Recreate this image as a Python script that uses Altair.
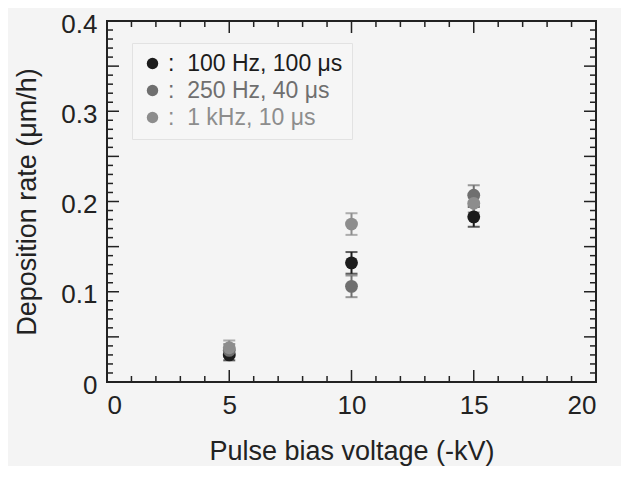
import altair as alt
import pandas as pd

series = ["100 Hz, 100 μs", "250 Hz, 40 μs", "1 kHz, 10 μs"]
colors = ["#1c1c1c", "#6f6f6f", "#8d8d8d"]
voltage = [5, 10, 15]
rate_100hz = [0.030, 0.132, 0.183]
err_100hz = [0.006, 0.012, 0.011]
rate_250hz = [0.035, 0.106, 0.207]
err_250hz = [0.007, 0.012, 0.011]
rate_1khz = [0.038, 0.175, 0.198]
err_1khz = [0.008, 0.012, 0.010]

x_major = [0, 5, 10, 15, 20]
x_minor = [v for v in range(0, 21) if v % 5 != 0]
y_major = [round(i * 0.05, 3) for i in range(0, 9)]
y_minor = [round(i * 0.01, 3) for i in range(0, 41) if i % 5 != 0]
x_labels = [0, 5, 10, 15, 20]
y_labels = [0, 0.1, 0.2, 0.3, 0.4]

rows = []
for name, ys, es in [(series[0], rate_100hz, err_100hz),
                     (series[1], rate_250hz, err_250hz),
                     (series[2], rate_1khz, err_1khz)]:
    for x, y, e in zip(voltage, ys, es):
        rows.append({"series": name, "v": x, "r": y, "lo": y - e, "hi": y + e,
                     "ord": series.index(name)})
df = pd.DataFrame(rows)

W, H = 489, 361
xs = alt.Scale(domain=[0, 20], nice=False)
ys_ = alt.Scale(domain=[0, 0.4], nice=False)
cscale = alt.Scale(domain=series, range=colors)
FONT = "Liberation Sans"

label_color_expr = ("datum.label == '" + series[0] + "' ? '" + colors[0] + "' : (datum.label == '"
                    + series[1] + "' ? '" + colors[1] + "' : '" + colors[2] + "')")

xaxis = alt.Axis(values=x_labels, ticks=False, domain=False, grid=False, labelFontSize=26,
                 labelFont=FONT, labelColor="#222", labelPadding=10,
                 title="Pulse bias voltage (-kV)", titleFontSize=27, titleFont=FONT,
                 titleFontWeight="normal", titleColor="#222", titlePadding=20)
yaxis = alt.Axis(values=y_labels, ticks=False, domain=False, grid=False, labelFontSize=26,
                 labelFont=FONT, labelColor="#222", labelPadding=10, labelOffset=3,
                 labelExpr="datum.value == 0 ? '0' : format(datum.value, '.1f')",
                 title="Deposition rate (μm/h)", titleFontSize=27, titleFont=FONT,
                 titleFontWeight="normal", titleColor="#222", titlePadding=19)

base = alt.Chart(df)

errbars = base.mark_errorbar(ticks={"size": 12, "thickness": 2}, thickness=2).encode(
    x=alt.X("v:Q", scale=xs, axis=xaxis),
    y=alt.Y("lo:Q", scale=ys_, axis=yaxis),
    y2="hi:Q",
    color=alt.Color("series:N", scale=cscale, legend=None),
)

NB = "\u00a0"
points = base.mark_circle(size=165, opacity=1).encode(
    x=alt.X("v:Q", scale=xs),
    y=alt.Y("r:Q", scale=ys_),
    color=alt.Color("series:N", scale=cscale, sort=series, legend=alt.Legend(
        title=None, orient="none", legendX=25, legendY=22,
        labelFontSize=23, labelFont=FONT,
        labelExpr="'" + NB + ":" + NB + NB + "' + datum.label",
        labelColor=alt.ExprRef(label_color_expr),
        symbolType="circle", symbolSize=130, symbolStrokeWidth=0, symbolOpacity=1,
        rowPadding=3, padding=9, fillColor="#f6f6f6", strokeColor="#e2e2e2",
        labelLimit=300)),
    order=alt.Order("ord:Q"),
)

xmaj_df = pd.DataFrame({"t": x_major})
xmin_df = pd.DataFrame({"t": x_minor})
ymaj_df = pd.DataFrame({"t": y_major})
ymin_df = pd.DataFrame({"t": y_minor})

def xticks(d, L):
    b = alt.Chart(d).mark_rule(color="#222", strokeWidth=1.5)
    return (b.encode(x=alt.X("t:Q", scale=xs), y=alt.value(H), y2=alt.value(H - L)) +
            b.encode(x=alt.X("t:Q", scale=xs), y=alt.value(0), y2=alt.value(L)))

def yticks(d, L):
    b = alt.Chart(d).mark_rule(color="#222", strokeWidth=1.5)
    return (b.encode(y=alt.Y("t:Q", scale=ys_), x=alt.value(0), x2=alt.value(L)) +
            b.encode(y=alt.Y("t:Q", scale=ys_), x=alt.value(W), x2=alt.value(W - L)))

chart = alt.layer(
    xticks(xmaj_df, 12), xticks(xmin_df, 6), yticks(ymaj_df, 12), yticks(ymin_df, 6),
    errbars, points
).resolve_legend(color="independent").properties(
    width=W, height=H, background="#f4f4f4",
    autosize=alt.AutoSizeParams(type="none"),
    padding={"left": 99, "top": 13, "right": 25, "bottom": 84},
).configure_view(stroke="#222", strokeWidth=2, fill="#f4f4f4")

chart.save("out.html", embed_options={"renderer": "svg", "actions": False})
